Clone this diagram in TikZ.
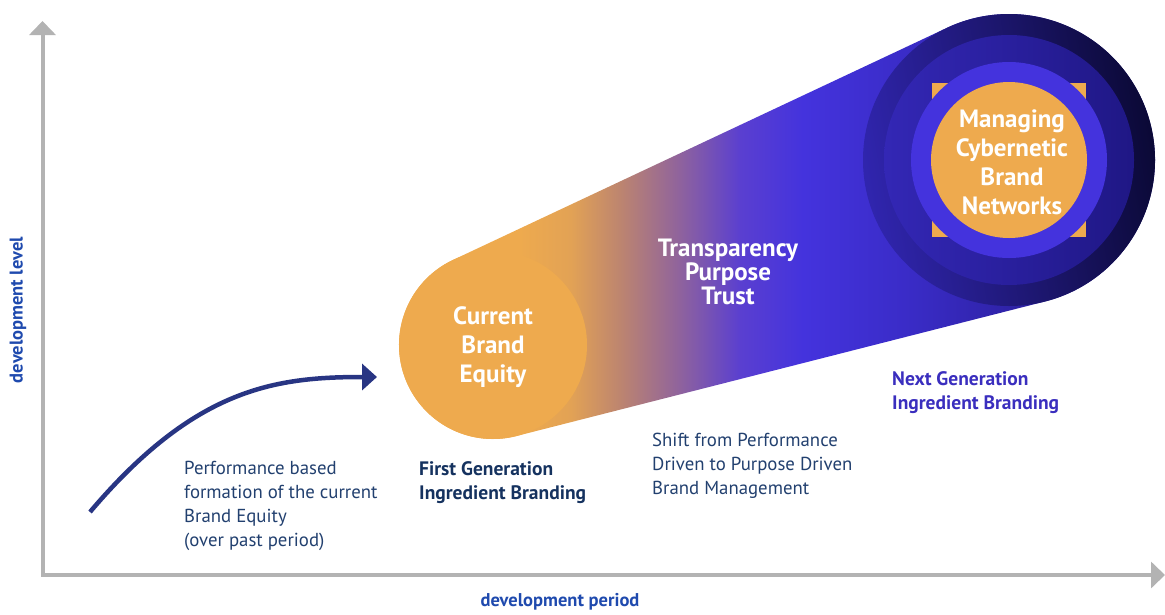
\documentclass[tikz,border=0pt]{standalone}
\usepackage{fontspec}
\setmainfont{PT Sans}
\usetikzlibrary{arrows.meta,positioning}

\definecolor{axisgray}{HTML}{B3B3B3}
\definecolor{orng}{HTML}{EEAA4E}
\definecolor{orngtan}{HTML}{E2A255}
\definecolor{mauve}{HTML}{BC8470}
\definecolor{plum}{HTML}{8E629E}
\definecolor{bluepurple}{HTML}{5A3FD0}
\definecolor{brightblue}{HTML}{4433DD}
\definecolor{deepblue}{HTML}{3A2CC8}
\definecolor{nightblue}{HTML}{1E1578}
\definecolor{ringblue}{HTML}{3327B5}
\definecolor{ringdark}{HTML}{1F1785}
\definecolor{outerlight}{HTML}{3025AE}
\definecolor{outerdark}{HTML}{0B0936}
\definecolor{textnavy}{HTML}{22406F}
\definecolor{boldnavy}{HTML}{15325F}
\definecolor{nextblue}{HTML}{3A2EBE}
\definecolor{labelblue}{HTML}{1F4AAE}
\definecolor{arrownavy}{HTML}{283583}

% left to right colour run of the cone
\pgfdeclarehorizontalshading{conebody}{100bp}{color(0bp)=(orng); color(33.5bp)=(orng);
  color(36.8bp)=(orngtan); color(40bp)=(mauve); color(43.8bp)=(plum);
  color(47.6bp)=(bluepurple); color(51.6bp)=(brightblue); color(58bp)=(deepblue);
  color(75bp)=(nightblue); color(100bp)=(nightblue)}

\begin{document}
\begin{tikzpicture}[x=1pt,y=-1pt,
  axis/.style={draw=axisgray, line width=4pt,
    {Triangle[length=14pt,width=26pt]}-{Triangle[length=14pt,width=26pt]}},
  axislabel/.style={text=labelblue, font=\fontsize{18.5}{20}\selectfont\bfseries},
  bubble/.style={text=white, align=center, inner sep=0pt, font=\fontsize{25}{29}\selectfont\bfseries},
  note/.style={text=textnavy, align=left, anchor=north west, inner sep=0pt, font=\fontsize{18.8}{24}\selectfont},
  gen/.style={align=left, anchor=north west, inner sep=0pt, font=\fontsize{19.5}{24}\selectfont\bfseries}]

  \useasboundingbox (0,0) rectangle (1165,614);

  % axes
  \coordinate (ytop) at (42.5,21);
  \coordinate (origin) at (42.5,575);
  \coordinate (xend) at (1165,575);
  \draw[axis] (ytop) -- (origin) -- (xend);

  \node[axislabel, rotate=90] (ylab) at (18,310) {development level};
  \node[axislabel] (xlab) at (560,602) {development period};

  % cone from the current equity to the network
  \coordinate (c1) at (493,345);
  \coordinate (c2) at (1009,160);
  \shade[shading=conebody]
    ([shift={(-115.16:94)}]c1) arc[start angle=-115.16, end angle=-284.28, radius=94]
    -- ([shift={(75.72:146)}]c2) arc[start angle=75.72, end angle=-115.16, radius=146]
    -- cycle;

  \fill[orng] (c1) circle[radius=94];

  \shade[left color=outerlight, right color=outerdark, shading angle=100] (c2) circle[radius=146];
  \shade[left color=ringblue, right color=ringdark] (c2) circle[radius=125];
  \fill[orng] ([shift={(-77,-77)}]c2) rectangle ([shift={(77,77)}]c2);
  \fill[brightblue] (c2) circle[radius=98];
  \fill[orng] (c2) circle[radius=78];

  \node[bubble] (equity) at (493,347) {Current\\Brand\\Equity};
  \node[bubble, font=\fontsize{25}{24}\selectfont\bfseries] (values) at (728,272) {Transparency\\Purpose\\Trust};
  \node[bubble] (network) at (1012,162) {Managing\\Cybernetic\\Brand\\Networks};

  % past period
  \coordinate (start) at (90,512);
  \coordinate (tip) at (377,377);
  \draw[arrownavy, line width=4.5pt, -{Triangle[length=15pt,width=26pt]}]
    (start) .. controls (195,388) and (275,377) .. (tip);

  \node[note] (past) at (184,461) {Performance based\\formation of the current\\Brand Equity\\(over past period)};
  \node[gen, text=boldnavy] (first) at (419,461) {First Generation\\Ingredient Branding};
  \node[note] (shift) at (652,433) {Shift from Performance\\Driven to Purpose Driven\\Brand Management};
  \node[gen, text=nextblue] (next) at (892,371) {Next Generation\\Ingredient Branding};

\end{tikzpicture}
\end{document}
